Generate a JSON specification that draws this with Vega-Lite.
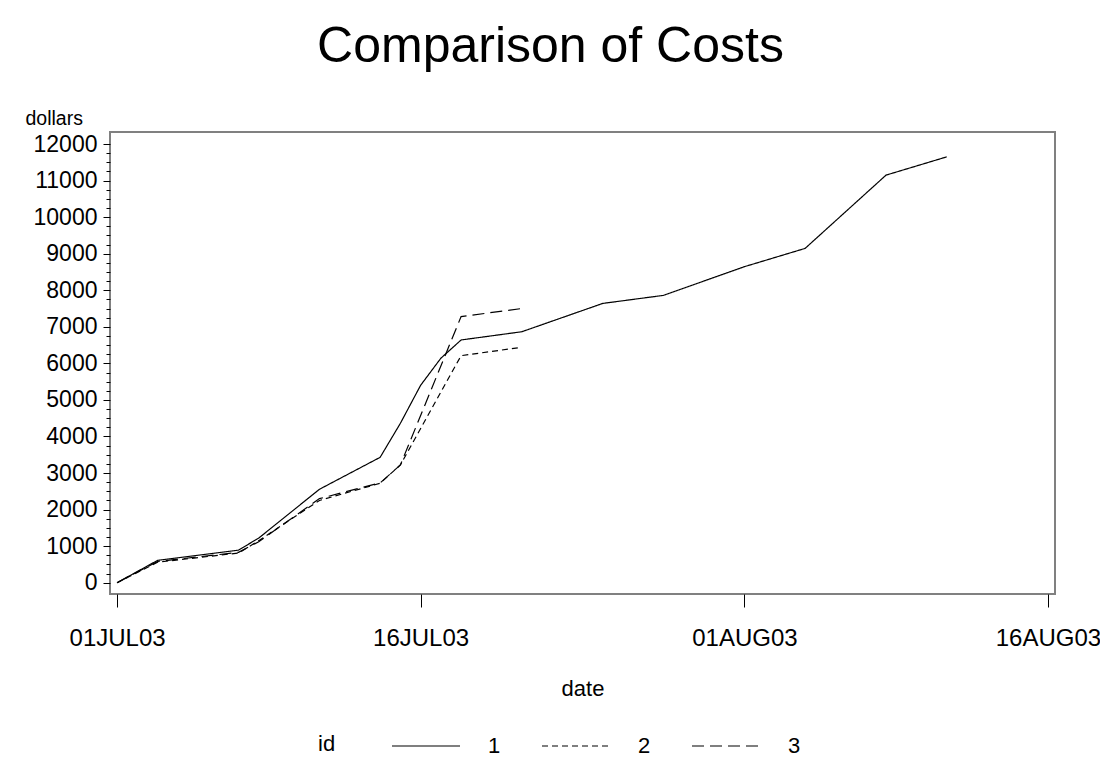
{
  "$schema": "https://vega.github.io/schema/vega-lite/v6.json",
  "width": 945,
  "height": 462,
  "autosize": {"type": "none"},
  "padding": {"left": 110, "top": 132, "right": 45, "bottom": 171},
  "background": "white",
  "config": {
    "font": "Liberation Sans",
    "view": {"stroke": "#808080", "strokeWidth": 2},
    "axis": {"grid": false, "domain": false, "tickColor": "black", "labelColor": "black", "titleColor": "black", "labelFont": "Liberation Sans", "titleFont": "Liberation Sans", "titleFontWeight": "normal"},
    "legend": {"labelFont": "Liberation Sans", "titleFont": "Liberation Sans", "titleFontWeight": "normal"}
  },
  "title": {
    "text": "Comparison of Costs",
    "fontSize": 50,
    "fontWeight": "normal",
    "font": "Liberation Sans",
    "color": "black",
    "anchor": "middle",
    "dx": -32,
    "offset": 36
  },
  "data": {
    "values": [
      {"id": "1", "date": "2003-07-01", "dollars": 0},
      {"id": "1", "date": "2003-07-03", "dollars": 610},
      {"id": "1", "date": "2003-07-07", "dollars": 890},
      {"id": "1", "date": "2003-07-08", "dollars": 1220},
      {"id": "1", "date": "2003-07-11", "dollars": 2555},
      {"id": "1", "date": "2003-07-14", "dollars": 3430},
      {"id": "1", "date": "2003-07-15", "dollars": 4360},
      {"id": "1", "date": "2003-07-16", "dollars": 5400},
      {"id": "1", "date": "2003-07-17", "dollars": 6140},
      {"id": "1", "date": "2003-07-18", "dollars": 6640},
      {"id": "1", "date": "2003-07-21", "dollars": 6865},
      {"id": "1", "date": "2003-07-25", "dollars": 7640},
      {"id": "1", "date": "2003-07-28", "dollars": 7860},
      {"id": "1", "date": "2003-08-01", "dollars": 8645},
      {"id": "1", "date": "2003-08-04", "dollars": 9145},
      {"id": "1", "date": "2003-08-08", "dollars": 11150},
      {"id": "1", "date": "2003-08-11", "dollars": 11650},
      {"id": "2", "date": "2003-07-01", "dollars": 0},
      {"id": "2", "date": "2003-07-03", "dollars": 560},
      {"id": "2", "date": "2003-07-07", "dollars": 810},
      {"id": "2", "date": "2003-07-08", "dollars": 1150},
      {"id": "2", "date": "2003-07-11", "dollars": 2250},
      {"id": "2", "date": "2003-07-14", "dollars": 2720},
      {"id": "2", "date": "2003-07-15", "dollars": 3220},
      {"id": "2", "date": "2003-07-18", "dollars": 6210},
      {"id": "2", "date": "2003-07-21", "dollars": 6440},
      {"id": "3", "date": "2003-07-01", "dollars": 0},
      {"id": "3", "date": "2003-07-03", "dollars": 580},
      {"id": "3", "date": "2003-07-07", "dollars": 830},
      {"id": "3", "date": "2003-07-08", "dollars": 1120},
      {"id": "3", "date": "2003-07-11", "dollars": 2300},
      {"id": "3", "date": "2003-07-14", "dollars": 2730},
      {"id": "3", "date": "2003-07-15", "dollars": 3220},
      {"id": "3", "date": "2003-07-18", "dollars": 7280},
      {"id": "3", "date": "2003-07-21", "dollars": 7500}
    ]
  },
  "layer": [
    {
      "mark": {"type": "line", "color": "black", "strokeWidth": 1.2},
      "encoding": {
        "x": {
          "field": "date",
          "type": "temporal",
          "scale": {
            "type": "utc",
            "domain": [
              {"year": 2003, "month": 6, "date": 30, "hours": 15, "minutes": 36, "utc": true},
              {"year": 2003, "month": 8, "date": 16, "hours": 8, "minutes": 24, "utc": true}
            ]
          },
          "axis": {
            "values": [
              {"year": 2003, "month": 7, "date": 1, "utc": true},
              {"year": 2003, "month": 7, "date": 16, "utc": true},
              {"year": 2003, "month": 8, "date": 1, "utc": true},
              {"year": 2003, "month": 8, "date": 16, "utc": true}
            ],
            "labelExpr": "upper(utcFormat(datum.value, '%d%b%y'))",
            "tickSize": 13,
            "labelFontSize": 24,
            "labelPadding": 19,
            "labelOverlap": false,
            "title": "date",
            "titleFontSize": 22,
            "titlePadding": 28
          }
        },
        "y": {
          "field": "dollars",
          "type": "quantitative",
          "scale": {"domain": [-310, 12330], "nice": false, "zero": false},
          "axis": {
            "values": [0, 1000, 2000, 3000, 4000, 5000, 6000, 7000, 8000, 9000, 10000, 11000, 12000],
            "format": "d",
            "tickSize": 7,
            "labelFontSize": 23,
            "labelPadding": 6,
            "title": "dollars",
            "titleFontSize": 19.5,
            "titleAngle": 0,
            "titleAlign": "left",
            "titleBaseline": "alphabetic",
            "titleX": -85,
            "titleY": -8
          }
        },
        "strokeDash": {
          "field": "id",
          "type": "nominal",
          "scale": {"domain": ["1", "2", "3"], "range": [[1, 0], [6, 4], [12, 6]]},
          "legend": {
            "orient": "none",
            "legendX": 208,
            "legendY": 579,
            "direction": "horizontal",
            "title": "id",
            "titleOrient": "left",
            "titleAnchor": "middle",
            "titleFontSize": 22,
            "titlePadding": 55,
            "titleBaseline": "top",
            "labelFontSize": 22,
            "labelOffset": 27,
            "columnPadding": 38,
            "symbolType": "stroke",
            "symbolSize": 4624,
            "symbolStrokeWidth": 1.2,
            "symbolStrokeColor": "black"
          }
        }
      }
    },
    {
      "mark": {"type": "point", "opacity": 0, "size": 0},
      "encoding": {
        "y": {
          "field": "dollars",
          "type": "quantitative",
          "axis": {
            "orient": "left",
            "values": [250, 500, 750, 1250, 1500, 1750, 2250, 2500, 2750, 3250, 3500, 3750, 4250, 4500, 4750, 5250, 5500, 5750, 6250, 6500, 6750, 7250, 7500, 7750, 8250, 8500, 8750, 9250, 9500, 9750, 10250, 10500, 10750, 11250, 11500, 11750],
            "tickSize": 4,
            "labels": false,
            "title": null
          }
        }
      }
    }
  ],
  "resolve": {"axis": {"y": "independent"}}
}
